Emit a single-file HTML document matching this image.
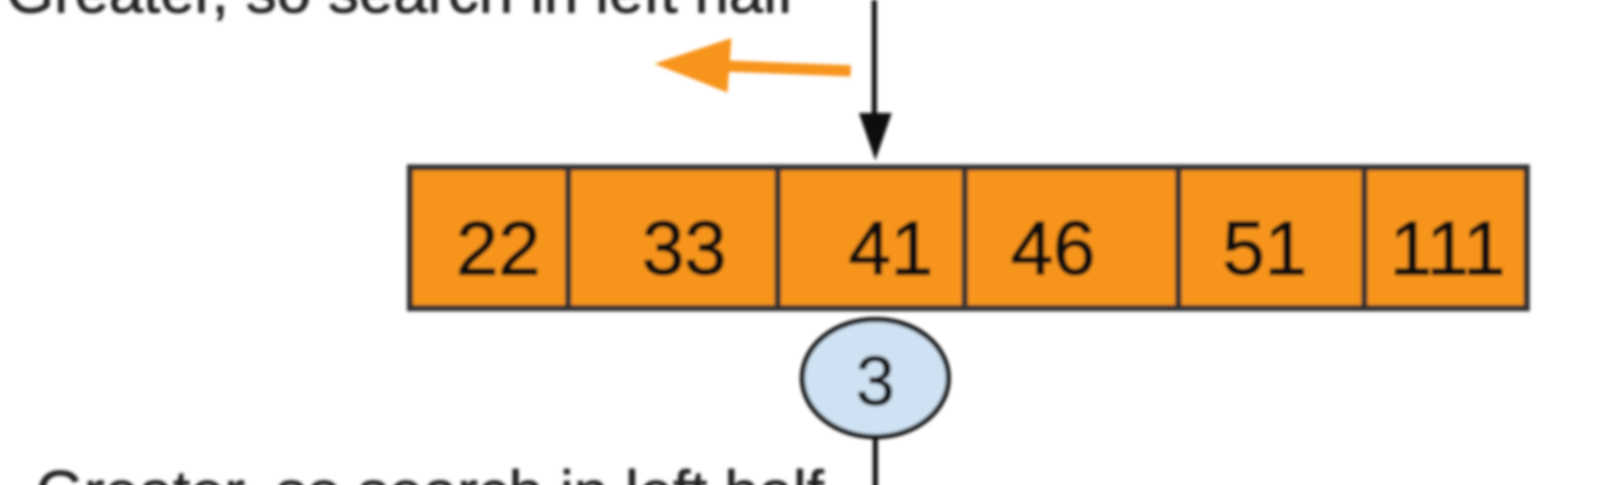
<!DOCTYPE html>
<html><head><meta charset="utf-8"><style>
html,body{margin:0;padding:0;background:#fff;overflow:hidden;}
svg{display:block;}
</style></head><body>
<svg width="1611" height="485" viewBox="0 0 1611 485" xmlns="http://www.w3.org/2000/svg">
<defs><filter id="b"><feGaussianBlur stdDeviation="1.6"/></filter></defs>
<g filter="url(#b)" font-family="Liberation Sans, sans-serif" transform="scale(1.0274)">
<text x="6" y="12" font-size="60" fill="#222" stroke="#222" stroke-width="0.8">Greater, so search in left half</text>
<line x1="851" y1="0" x2="851" y2="118" stroke="#111" stroke-width="5"/>
<polygon points="836,110 868,110 852,156" fill="#111"/>
<line x1="828" y1="69" x2="700" y2="64" stroke="#f7941d" stroke-width="11"/>
<polygon points="637,62 712,37 708,90" fill="#f7941d"/>
<rect x="399" y="163" width="1087" height="137" fill="#f7941d" stroke="#333" stroke-width="6"/>
<g stroke="#333" stroke-width="6">
<line x1="553" y1="163" x2="553" y2="300"/>
<line x1="757" y1="163" x2="757" y2="300"/>
<line x1="939" y1="163" x2="939" y2="300"/>
<line x1="1147" y1="163" x2="1147" y2="300"/>
<line x1="1328" y1="163" x2="1328" y2="300"/>
</g>
<g font-size="74" fill="#111" stroke="#111" stroke-width="1.5" text-anchor="middle">
<text x="485" y="267">22</text>
<text x="666" y="267">33</text>
<text x="867" y="267">41</text>
<text x="1025" y="267">46</text>
<text x="1231" y="267">51</text>
<text x="1409" y="267">111</text>
</g>
<line x1="852" y1="420" x2="852" y2="485" stroke="#111" stroke-width="5"/>
<ellipse cx="852" cy="368" rx="71" ry="57" fill="#cfe2f3" stroke="#111" stroke-width="5"/>
<text x="852" y="394" font-size="68" fill="#111" stroke="#111" stroke-width="1" text-anchor="middle">3</text>
<text x="35" y="500" font-size="60" fill="#222" stroke="#222" stroke-width="0.8">Greater, so search in left half</text>
</g>
</svg>
</body></html>
